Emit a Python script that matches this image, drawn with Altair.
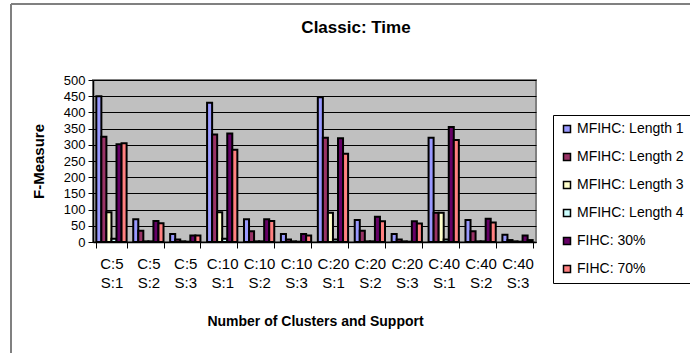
import altair as alt
import pandas as pd

# Cluster / support settings along the x axis
groups = ["C:5 S:1", "C:5 S:2", "C:5 S:3",
          "C:10 S:1", "C:10 S:2", "C:10 S:3",
          "C:20 S:1", "C:20 S:2", "C:20 S:3",
          "C:40 S:1", "C:40 S:2", "C:40 S:3"]

series = ["MFIHC: Length 1", "MFIHC: Length 2", "MFIHC: Length 3",
          "MFIHC: Length 4", "FIHC: 30%", "FIHC: 70%"]

colors = ["#9999FF", "#993366", "#FFFFCC", "#CCFFFF", "#660066", "#FF8080"]

# Run time per series, one value per group
mfihc_len1 = [450, 70, 25, 430, 70, 25, 447, 68, 25, 322, 68, 22]
mfihc_len2 = [325, 35, 8, 332, 33, 8, 322, 35, 8, 90, 33, 6]
mfihc_len3 = [92, 2, 2, 92, 2, 2, 90, 2, 2, 90, 2, 2]
mfihc_len4 = [10, 2, 1, 10, 2, 1, 8, 2, 1, 8, 2, 1]
fihc_30 = [302, 65, 20, 335, 70, 25, 320, 78, 64, 355, 72, 20]
fihc_70 = [305, 58, 20, 285, 65, 20, 272, 64, 57, 315, 60, 6]

values = [mfihc_len1, mfihc_len2, mfihc_len3, mfihc_len4, fihc_30, fihc_70]

rows = []
for name, vals in zip(series, values):
    for g, v in zip(groups, vals):
        rows.append({"group": g, "series": name, "time": v})
df = pd.DataFrame(rows)

FONT = "Liberation Sans"
TITLE = "Classic: Time"

bars = alt.Chart(df).mark_bar(stroke="black", strokeWidth=2).encode(
    x=alt.X("group:N", sort=groups,
            scale=alt.Scale(paddingInner=0.18, paddingOuter=0.09),
            axis=alt.Axis(title="Number of Clusters and Support",
                          labelExpr="datum.value ? split(datum.value, ' ') : ''",
                          labelAngle=0, labelFontSize=15, labelLineHeight=19,
                          labelBaseline="top", labelPadding=8,
                          labelColor="black", labelFont=FONT,
                          tickBand="extent", tickSize=6, tickColor="black",
                          domainColor="black", domainWidth=1.5,
                          titleFontSize=14, titleFont=FONT, titleFontWeight="bold",
                          titleColor="black", titleX=222, titleY=79,
                          titleBaseline="middle", titleAlign="center")),
    xOffset=alt.XOffset("series:N", sort=series,
                        scale=alt.Scale(paddingInner=0, paddingOuter=0)),
    y=alt.Y("time:Q",
            scale=alt.Scale(domain=[0, 500], nice=False),
            axis=alt.Axis(title="F-Measure", values=list(range(0, 501, 50)),
                          labelFontSize=13, labelFont=FONT, labelColor="black",
                          labelPadding=3, tickSize=5, tickColor="black",
                          domainColor="black", domainWidth=1.5,
                          grid=True, gridColor="black", gridWidth=1,
                          titleFontSize=15, titleFont=FONT, titleFontWeight="bold",
                          titleColor="black", titleAngle=-90, titleX=-55, titleY=81,
                          titleBaseline="middle", titleAlign="center")),
    color=alt.Color("series:N", sort=series,
                    scale=alt.Scale(domain=series, range=colors),
                    legend=alt.Legend(title=None, orient="none",
                                      legendX=460, legendY=35,
                                      symbolType="square", symbolSize=49,
                                      symbolStrokeColor="black", symbolStrokeWidth=1.5,
                                      labelFontSize=14, labelFont=FONT,
                                      labelColor="black", labelOffset=3,
                                      rowPadding=14, padding=7,
                                      strokeColor="black", fillColor="white")),
)

# Chart frame lines on the left and top edges
frame_left = alt.Chart(df).mark_rule(color="#808080", strokeWidth=2).encode(
    x=alt.value(-82), y=alt.value(-76), y2=alt.value(280))
frame_top = alt.Chart(df).mark_rule(color="#808080", strokeWidth=2).encode(
    x=alt.value(-82), x2=alt.value(620), y=alt.value(-76))

# Chart title, centred over the whole chart frame
title = alt.Chart(pd.DataFrame({"t": [TITLE]})).mark_text(
    font=FONT, fontSize=17, fontWeight="bold", color="black",
    align="center", baseline="middle").encode(
    text="t:N", x=alt.value(263), y=alt.value(-52))

chart = alt.layer(bars, frame_left, frame_top, title).properties(
    width=443, height=162,
    autosize=alt.AutoSizeParams(type="none"),
    padding={"left": 93, "top": 80, "right": 154, "bottom": 111},
    background="white",
).configure_view(fill="#C0C0C0", stroke="#808080", strokeWidth=2)

chart.save("out.html", embed_options={"renderer": "svg", "actions": False})
